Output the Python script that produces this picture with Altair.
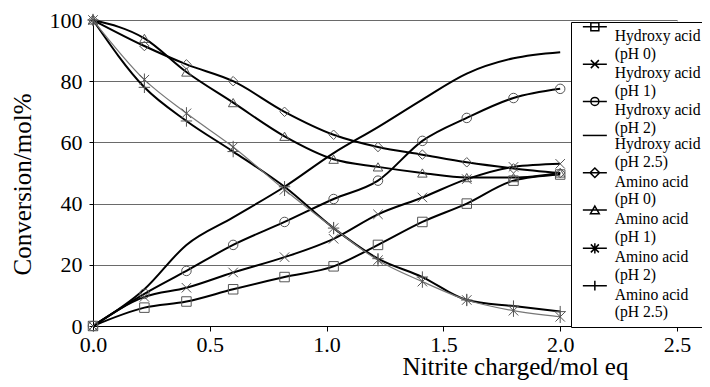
import altair as alt
import pandas as pd

# ---- data ----
x_vals = [0.0, 0.22, 0.40, 0.60, 0.82, 1.03, 1.22, 1.41, 1.60, 1.80, 2.00]

series_names = [
    "Hydroxy acid|(pH 0)",
    "Hydroxy acid|(pH 1)",
    "Hydroxy acid|(pH 2)",
    "Hydroxy acid|(pH 2.5)",
    "Amino acid| (pH 0)",
    "Amino acid|(pH 1)",
    "Amino acid|(pH 2)",
    "Amino acid|(pH 2.5)",
]

hyd_ph0 = [0, 6, 8, 12, 16, 19.5, 26.5, 34, 40, 47.5, 49.5]
hyd_ph1 = [0, 9.5, 12.5, 17.5, 22.5, 28.5, 36.5, 42, 48, 52, 53]
hyd_ph2 = [0, 10.5, 18, 26.5, 34, 41.5, 47.5, 60.5, 68, 74.5, 77.5]
hyd_ph25 = [0, 12, 26.5, 35.5, 45.5, 56.5, 65, 74, 82.5, 87.5, 89.5]
ami_ph0 = [100, 91.5, 85.5, 80, 70, 62.5, 58.5, 56, 53.5, 51.5, 50]
ami_ph1 = [100, 94, 83, 73, 62, 54.5, 52, 50, 48.5, 48.5, 50]
ami_ph2 = [100, 80.5, 69.5, 58.5, 44.5, 32, 21.5, 14.5, 8.5, 5, 3]
ami_ph25 = [100, 78, 67, 57, 45.5, 32, 22, 16, 8.5, 6.5, 4.7]

series_values = [hyd_ph0, hyd_ph1, hyd_ph2, hyd_ph25, ami_ph0, ami_ph1, ami_ph2, ami_ph25]

x_ticks = [0.0, 0.5, 1.0, 1.5, 2.0, 2.5]
y_ticks = [0, 10, 20, 30, 40, 50, 60, 70, 80, 90, 100]

rows = []
for name, ys in zip(series_names, series_values):
    for xv, yv in zip(x_vals, ys):
        rows.append({"series": name, "x": xv, "y": yv})
df = pd.DataFrame(rows)

FONT = "'Liberation Serif', 'Times New Roman', serif"
THIN = series_names[6]

# marker shapes for the plot
plot_shapes = [
    "square",
    "M-1,-1L1,1M1,-1L-1,1",
    "circle",
    "M0,0",
    "diamond",
    "triangle-up",
    "M-1,-1L1,1M1,-1L-1,1M0,-1.3L0,1.3",
    "M-1.2,0L1.2,0M0,-1.2L0,1.2",
]

# legend symbols: a short line with the marker, lifted to the first label line
d = -2.25
ln = f"M-3,{d}L3,{d}"
legend_shapes = [
    ln + f"M-1,{d-1}L1,{d-1}L1,{d+1}L-1,{d+1}Z",
    ln + f"M-1,{d-1}L1,{d+1}M1,{d-1}L-1,{d+1}",
    ln + f"M-1,{d}A1,1 0 1,0 1,{d}A1,1 0 1,0 -1,{d}",
    ln,
    ln + f"M0,{d-1.2}L1.2,{d}L0,{d+1.2}L-1.2,{d}Z",
    ln + f"M0,{d-1}L1.1,{d+0.9}L-1.1,{d+0.9}Z",
    ln + f"M-1,{d-1}L1,{d+1}M1,{d-1}L-1,{d+1}M0,{d-1.3}L0,{d+1.3}",
    ln + f"M0,{d-1.2}L0,{d+1.2}",
]

x_enc = alt.X(
    "x:Q",
    scale=alt.Scale(domain=[0, 2.5], nice=False),
    axis=alt.Axis(
        values=x_ticks, format=".1f", grid=False, tickSize=5, tickColor="black",
        domainColor="black", labelFont=FONT, labelFontSize=22, labelColor="black",
        labelPadding=3, labelFlush=False, labelOverlap=False,
        title="Nitrite charged/mol eq", titleFont=FONT,
        titleFontSize=25, titleFontWeight="normal", titleColor="black",
        titleX=422, titleY=48, titleAlign="center", titleBaseline="alphabetic",
    ),
)
y_enc = alt.Y(
    "y:Q",
    scale=alt.Scale(domain=[0, 100], nice=False),
    axis=alt.Axis(
        values=y_ticks, grid=True, gridColor="#6a6a6a", gridWidth=1, tickSize=4,
        tickColor="black", domainColor="black", labelFont=FONT, labelFontSize=22,
        labelColor="black", labelPadding=7, labelOverlap=False, labelFlush=False,
        title="Conversion/mol%",
        titleFont=FONT, titleFontSize=25, titleFontWeight="normal",
        titleColor="black", titleAngle=270, titleX=-71, titleY=164,
        titleAlign="center", titleBaseline="middle",
    ),
)

base = alt.Chart(df).encode(x=x_enc, y=y_enc)

thick = base.transform_filter(alt.datum.series != THIN).mark_line(
    interpolate="monotone", color="black", strokeWidth=2
).encode(detail="series:N")

thin = base.transform_filter(alt.datum.series == THIN).mark_line(
    interpolate="monotone", color="#777777", strokeWidth=1.2
).encode(detail="series:N")

points = base.mark_point(
    filled=False, size=90, strokeWidth=1, color="#555555", opacity=1
).encode(
    shape=alt.Shape("series:N", scale=alt.Scale(domain=series_names, range=plot_shapes), legend=None)
)

legend_layer = alt.Chart(df[df["x"] == 0]).mark_point(
    opacity=0, filled=False
).encode(
    x="x:Q",
    y="y:Q",
    shape=alt.Shape(
        "series:N",
        scale=alt.Scale(domain=series_names, range=legend_shapes),
        legend=alt.Legend(
            orient="none", legendX=478, legendY=2, title=None,
            labelExpr="split(datum.label, '|')", labelFont=FONT, labelFontSize=15.7,
            labelColor="black", labelLimit=300, symbolSize=64,
            symbolStrokeColor="black", symbolStrokeWidth=1.5,
            symbolFillColor="transparent", symbolOpacity=1, symbolOffset=10,
            labelOffset=12, padding=6, rowPadding=-5.7, strokeColor="black",
            fillColor="white", cornerRadius=0,
        ),
    ),
)

chart = alt.layer(thick, thin, points, legend_layer).resolve_scale(
    shape="independent"
).properties(
    width=584, height=306,
    padding={"left": 85, "top": 12, "right": 25, "bottom": 54},
    autosize=alt.AutoSizeParams(type="none"),
).configure_view(stroke=None).configure(font=FONT, background="white")

chart.save("out.html", embed_options={"renderer": "svg", "actions": False})
